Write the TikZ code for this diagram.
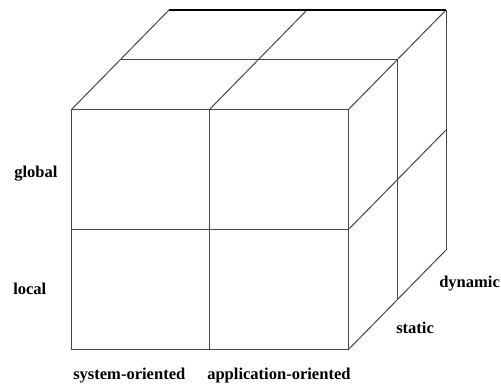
\documentclass[tikz,border=0pt]{standalone}
\usepackage{fontspec}
\setmainfont{Liberation Serif}
\begin{document}
\begin{tikzpicture}[x=0.75pt,y=-0.75pt,
  edge/.style={draw=black!72,line width=0.75pt},
  topedge/.style={draw=black,line width=1.6pt},
  lab/.style={inner sep=0pt,anchor=base west,font=\fontsize{12.4}{14}\bfseries\selectfont}]
\useasboundingbox (0,0) rectangle (501,385);
% front face corners
\coordinate (A) at (71,110); \coordinate (B) at (209,110); \coordinate (C) at (348,110);
\coordinate (D) at (71,230); \coordinate (E) at (209,230); \coordinate (F) at (348,230);
\coordinate (G) at (71,350); \coordinate (H) at (209,350); \coordinate (I) at (348,350);
% top face, middle depth and back
\coordinate (A1) at (120,60); \coordinate (B1) at (258,60); \coordinate (C1) at (397,60);
\coordinate (A2) at (169,10); \coordinate (B2) at (307,10); \coordinate (C2) at (446,10);
% right face
\coordinate (F1) at (397,180); \coordinate (F2) at (446,130);
\coordinate (I1) at (397,300); \coordinate (I2) at (446,250);
% front face
\draw[edge] (A) rectangle (I);
\draw[edge] (B) -- (H);
\draw[edge] (D) -- (F);
% top face
\draw[edge] (A) -- (A2);
\draw[edge] (B) -- (B2);
\draw[edge] (C) -- (C2);
\draw[edge] (A1) -- (C1);
\draw[topedge] (A2) -- (C2);
% right face
\draw[edge] (C1) -- (I1);
\draw[edge] (C2) -- (I2);
\draw[edge] (F) -- (F2);
\draw[edge] (I) -- (I2);
% labels
\node[lab] (global) at (14,178) {global};
\node[lab] (local) at (13,295) {local};
\node[lab] (sys) at (73,380) {system-oriented};
\node[lab] (app) at (207,380) {application-oriented};
\node[lab] (static) at (396,334) {static};
\node[lab] (dynamic) at (439,288) {dynamic};
\end{tikzpicture}
\end{document}
